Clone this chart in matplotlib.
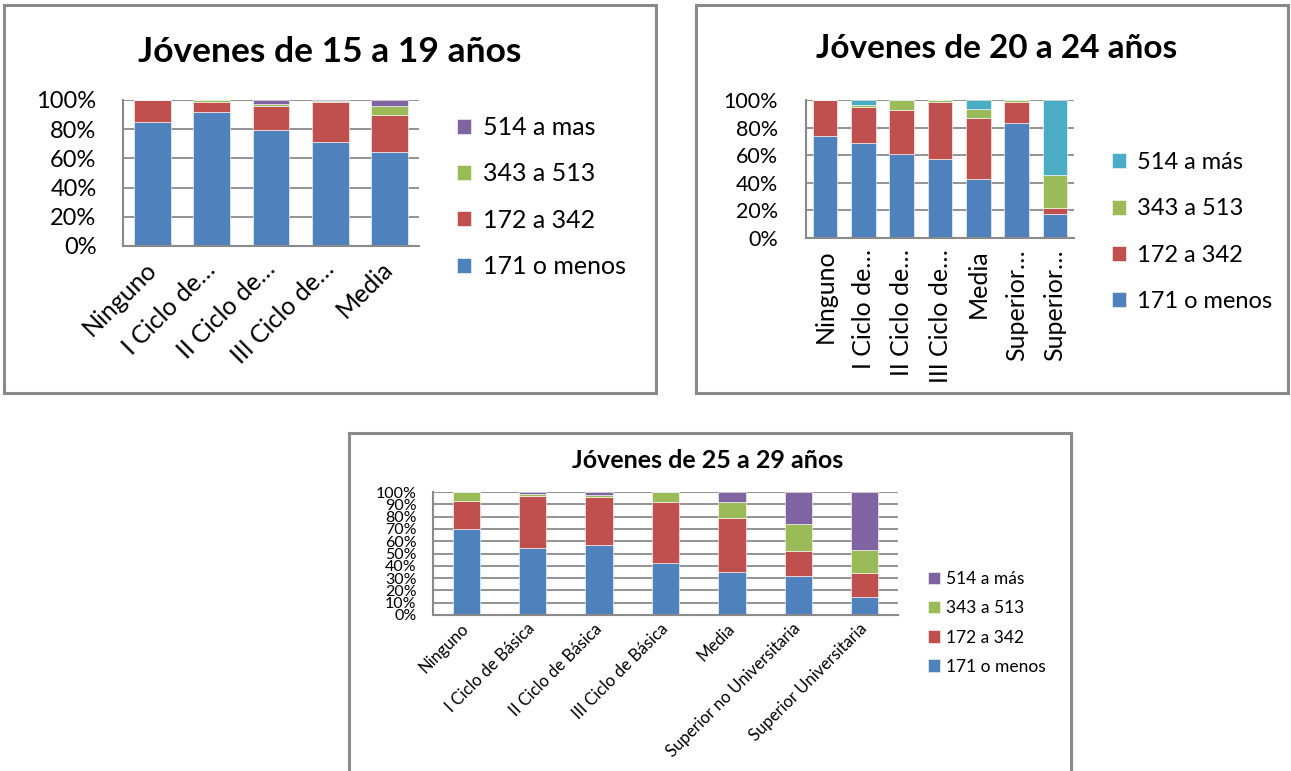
import matplotlib
matplotlib.use('Agg')
from matplotlib import pyplot as plt
from matplotlib.patches import Rectangle
import numpy as np

plt.rcParams['font.family'] = ['Lato', 'DejaVu Sans']

# %% Data

series_names = ['171 o menos', '172 a 342', '343 a 513']

cats1 = ['Ninguno', 'I Ciclo de…', 'II Ciclo de…', 'III Ciclo de…', 'Media']
c1_171 = [84.7, 92.0, 79.7, 71.5, 64.6]
c1_172 = [15.3, 6.6, 16.4, 27.4, 25.1]
c1_343 = [0.0, 1.4, 1.4, 0.6, 6.4]
c1_514 = [0.0, 0.0, 2.5, 0.5, 3.9]

cats2 = ['Ninguno', 'I Ciclo de…', 'II Ciclo de…', 'III Ciclo de…', 'Media',
         'Superior…', 'Superior…']
c2_171 = [74.1, 68.5, 60.8, 57.1, 42.4, 83.0, 17.7]
c2_172 = [25.9, 26.7, 31.9, 41.4, 44.8, 15.5, 4.3]
c2_343 = [0.0, 0.9, 7.3, 1.5, 6.0, 1.5, 23.5]
c2_514 = [0.0, 3.9, 0.0, 0.0, 6.8, 0.0, 54.5]

cats3 = ['Ninguno', 'I Ciclo de Básica', 'II Ciclo de Básica', 'III Ciclo de Básica',
         'Media', 'Superior no Universitaria', 'Superior Universitaria']
c3_171 = [69.6, 54.7, 56.9, 42.3, 35.2, 31.7, 14.6]
c3_172 = [23.1, 42.3, 39.0, 49.6, 43.9, 20.3, 19.5]
c3_343 = [7.3, 1.4, 1.7, 8.1, 12.8, 21.7, 18.7]
c3_514 = [0.0, 1.6, 2.4, 0.0, 8.1, 26.3, 47.2]

# %% Layout helpers

W, H = 1291, 771
fig = plt.figure(figsize=(W/100, H/100), dpi=100)

def box(x0, y0, x1, y1):
    return [x0/W, 1-y1/H, (x1-x0)/W, (y1-y0)/H]

def frame(x0, y0, x1, y1):
    fig.add_artist(Rectangle((x0/W, 1-y1/H), (x1-x0)/W, (y1-y0)/H,
                             transform=fig.transFigure, fill=False,
                             edgecolor='#8a8a8a', lw=2.2))

blue, red, green, purple, cyan = '#4F81BD', '#C0504D', '#9BBB59', '#8064A2', '#4BACC6'
grey = '#8a8a8a'

def stacked(ax, cats, data, labels, colors, width, step, fs):
    x = np.arange(len(cats))
    bottom = np.zeros(len(cats))
    handles = []
    for vals, lab, col in zip(data, labels, colors):
        b = ax.bar(x, vals, width, bottom=bottom, color=col, label=lab,
                   edgecolor='white', linewidth=0.4)
        handles.append(b)
        bottom += np.array(vals)
    ax.set_xlim(-0.5, len(cats)-0.5)
    ax.set_ylim(0, 100)
    ax.set_yticks(np.arange(0, 101, step))
    ax.set_yticklabels([f'{v}%' for v in range(0, 101, step)], fontsize=fs)
    ax.yaxis.grid(True, color=grey, lw=1.3)
    ax.set_axisbelow(True)
    for s in ['top', 'right']:
        ax.spines[s].set_visible(False)
    for s in ['left', 'bottom']:
        ax.spines[s].set_color(grey)
        ax.spines[s].set_linewidth(1.5)
    ax.tick_params(length=0)
    return handles

# %% Chart 1

frame(4, 5, 656, 393)
ax1 = fig.add_axes(box(123, 100, 419, 246))
h1 = stacked(ax1, cats1, [c1_171, c1_172, c1_343, c1_514],
             series_names + ['514 a mas'], [blue, red, green, purple], 0.62, 20, 17)
ax1.tick_params(axis='y', pad=19)
ax1.set_xticks(range(len(cats1)))
ax1.set_xticklabels(cats1, rotation=45, ha='right', va='center',
                    rotation_mode='anchor', fontsize=18)
ax1.tick_params(axis='x', pad=14)
fig.text(330/W, 1-52/H, 'Jóvenes de 15 a 19 años', ha='center', va='center',
         fontsize=25.5, fontweight='bold')
ax1.legend(handles=h1[::-1], loc='center left', bbox_to_anchor=(457/W, 1-197/H),
           bbox_transform=fig.transFigure, frameon=False, fontsize=18,
           handlelength=0.55, handleheight=0.55, handletextpad=0.5,
           labelspacing=0.93, borderpad=0, borderaxespad=0)

# %% Chart 2

frame(696, 5, 1288, 393)
ax2 = fig.add_axes(box(806, 100, 1074, 238))
h2 = stacked(ax2, cats2, [c2_171, c2_172, c2_343, c2_514],
             series_names + ['514 a más'], [blue, red, green, cyan], 0.64, 20, 15.5)
ax2.tick_params(axis='y', pad=20)
ax2.set_xticks(range(len(cats2)))
ax2.set_xticklabels(cats2, rotation=90, ha='center', va='top', fontsize=18)
ax2.tick_params(axis='x', pad=8)
fig.text(997/W, 1-48/H, 'Jóvenes de 20 a 24 años', ha='center', va='center',
         fontsize=24, fontweight='bold')
ax2.legend(handles=h2[::-1], loc='center left', bbox_to_anchor=(1112/W, 1-232/H),
           bbox_transform=fig.transFigure, frameon=False, fontsize=17,
           handlelength=0.6, handleheight=0.6, handletextpad=0.45,
           labelspacing=1.07, borderpad=0, borderaxespad=0)

# %% Chart 3

frame(349, 433, 1071, 790)
ax3 = fig.add_axes(box(433, 492, 898, 615))
h3 = stacked(ax3, cats3, [c3_171, c3_172, c3_343, c3_514],
             series_names + ['514 a más'], [blue, red, green, purple], 0.41, 10, 11.5)
ax3.tick_params(axis='y', pad=12)
ax3.set_xticks(range(len(cats3)))
ax3.set_xticklabels(cats3, rotation=45, ha='right', va='center',
                    rotation_mode='anchor', fontsize=12)
ax3.tick_params(axis='x', pad=8)
fig.text(708/W, 1-461/H, 'Jóvenes de 25 a 29 años', ha='center', va='center',
         fontsize=18, fontweight='bold')
ax3.legend(handles=h3[::-1], loc='center left', bbox_to_anchor=(928/W, 1-623/H),
           bbox_transform=fig.transFigure, frameon=False, fontsize=12.5,
           handlelength=0.7, handleheight=0.7, handletextpad=0.35,
           labelspacing=0.75, borderpad=0, borderaxespad=0)

fig.savefig('out.png', dpi=100)
